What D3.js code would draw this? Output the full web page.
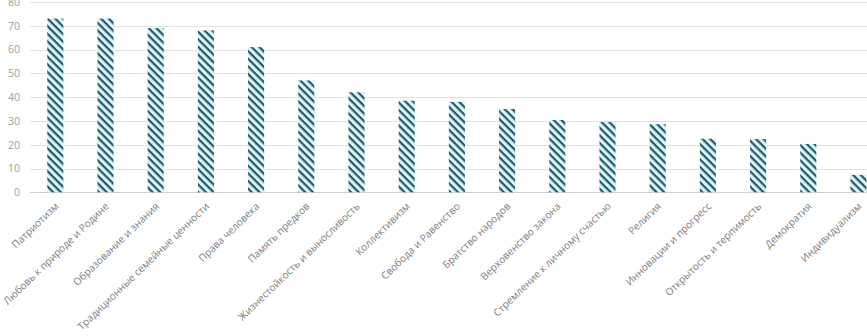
<!DOCTYPE html>
<html><head><meta charset="utf-8">
<script src="https://cdn.jsdelivr.net/npm/d3@7"></script>
<style>
html,body{margin:0;padding:0;background:#fff;overflow:hidden;}
svg{display:block;}
</style></head>
<body>
<svg id="chart" width="867" height="336"></svg>
<script>
const categories = [
  "Патриотизм",
  "Любовь к природе и Родине",
  "Образование и знания",
  "Традиционные семейные ценности",
  "Права человека",
  "Память предков",
  "Жизнестойкость и выносливость",
  "Коллективизм",
  "Свобода и Равенство",
  "Братство народов",
  "Верховенство закона",
  "Стремление к личному счастью",
  "Религия",
  "Инновации и прогресс",
  "Открытость и терпимость",
  "Демократия",
  "Индивидуализм"
];
const values = [73, 73, 69, 68, 61, 47, 42, 38.5, 38, 35, 30.4, 29.5, 28.6, 22.5, 22.4, 20.3, 7.3];
const yTicks = [0, 10, 20, 30, 40, 50, 60, 70, 80];

const svg = d3.select("#chart");
const font = "'Open Sans', 'Noto Sans', sans-serif";

const x = d3.scaleBand().domain(categories).range([30.2, 883.6])
  .paddingInner(0.68).paddingOuter(0.34);
const y = d3.scaleLinear().domain([0, 80]).range([192.3, 1.9]);

const defs = svg.append("defs");
const pat = defs.append("pattern").attr("id", "hatch")
  .attr("patternUnits", "userSpaceOnUse")
  .attr("width", 8).attr("height", 5.4)
  .attr("patternTransform", "rotate(45)");
pat.append("rect").attr("width", 8).attr("height", 5.4).attr("fill", "#ddf6fa");
pat.append("rect").attr("y", 0).attr("width", 8).attr("height", 2.2).attr("fill", "#215769");

// gridlines
svg.append("g").selectAll("line").data(yTicks).join("line")
  .attr("x1", 30).attr("x2", 867)
  .attr("y1", d => Math.round(y(d)) + 0.5).attr("y2", d => Math.round(y(d)) + 0.5)
  .attr("stroke", d => d === 0 ? "#d0d0d0" : "#e2e2e2").attr("stroke-width", 1);

// y axis labels
const yAxis = d3.axisLeft(y).tickValues(yTicks).tickSize(0).tickPadding(0);
const gy = svg.append("g").attr("transform", "translate(20,0)").call(yAxis);
gy.select(".domain").remove();
gy.selectAll("text").attr("fill", "#a0a0a0").style("font-family", font).style("font-size", "10.5px");

// bars
svg.append("g").selectAll("rect").data(values).join("rect")
  .attr("x", (d, i) => x(categories[i]))
  .attr("width", x.bandwidth())
  .attr("y", d => y(d))
  .attr("height", d => y(0) - y(d))
  .attr("fill", "url(#hatch)");

// x labels
const xAxis = d3.axisBottom(x).tickSize(0).tickPadding(0);
const gx = svg.append("g").attr("transform", "translate(0,192)").call(xAxis);
gx.select(".domain").remove();
gx.selectAll("text")
  .attr("fill", "#808080")
  .style("font-family", font).style("font-size", "10.2px")
  .attr("text-anchor", "end")
  .attr("dy", null).attr("y", 0)
  .attr("transform", "translate(4,15) rotate(-44)");
</script>
</body></html>
